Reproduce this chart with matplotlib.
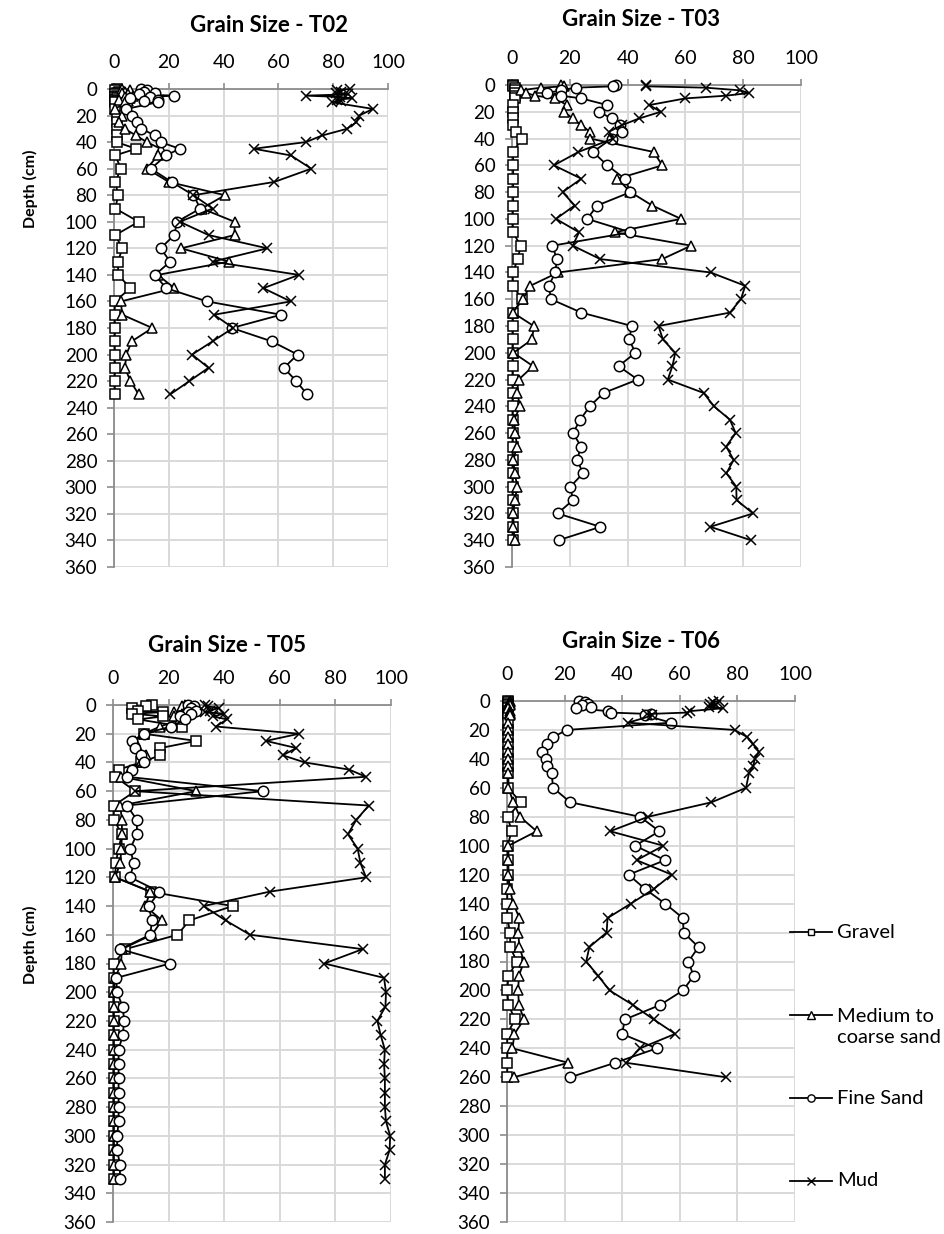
import matplotlib
matplotlib.use("Agg")
import matplotlib.pyplot as plt
from matplotlib.lines import Line2D

plt.rcParams["font.family"] = ["Lato", "DejaVu Sans"]

# ---------------------------------------------------------------------------
# Grain size fractions (%) against depth (cm) for each core
# ---------------------------------------------------------------------------

t02_depth  = [0, 1, 2, 3, 4, 5, 6, 7, 8, 9, 10, 15, 20, 25, 30, 35, 40, 45, 50,
              60, 70, 80, 90, 100, 110, 120, 130, 140, 150, 160, 170, 180, 190,
              200, 210, 220, 230]
t02_gravel = [1, 0.5, 2, 1, 0.5, 1, 0.5, 1, 0.5, 1, 0.5, 0.5, 1, 1, 1, 1, 1, 8, 0.5,
              2.5, 0.5, 1.5, 0.5, 9, 0.5, 3, 1.5, 1.5, 6, 0.3, 0.3, 0.3, 0.3,
              0.3, 0.3, 0.3, 0.3]
t02_medium = [3, 6, 4, 3, 5, 7, 4, 6, 2, 5, 4, 0.5, 3, 2, 4, 8, 12, 17, 16,
              12, 20, 40.5, 32, 44, 44, 24.5, 42, 16, 22, 2.5, 3, 14, 6.5,
              4.5, 4, 6, 9]
t02_fine   = [10, 12, 11, 15, 9, 22, 13, 6, 16, 11, 16, 4.5, 6.5, 8.5, 10, 15, 17, 24, 19,
              13.5, 21, 29, 31.5, 23, 22, 17, 20.5, 15, 19, 34, 61, 43, 57.5,
              67, 62, 66.5, 70.5]
t02_mud    = [86, 81.5, 83, 81, 85.5, 70, 82.5, 87, 81.5, 83, 79.5, 94.5, 89.5, 88.5, 85, 76, 70, 51, 64.5,
              72, 58.5, 29, 36, 24, 34.5, 56, 36, 67.5, 54.5, 64.5, 36.5, 43.5, 36,
              28.5, 34.5, 27.5, 20.5]

t03_depth  = [0, 1, 2, 4, 6, 8, 10, 15, 20, 25, 30, 35, 40, 50, 60, 70, 80, 90,
              100, 110, 120, 130, 140, 150, 160, 170, 180, 190, 200, 210, 220,
              230, 240, 250, 260, 270, 280, 290, 300, 310, 320, 330, 340]
t03_gravel = [0.5, 0.5, 1, 1, 1, 1, 1, 0.5, 0.5, 0.5, 0.5, 1.5, 3.5, 0.3, 0.5, 0.3, 0.5, 0.3,
              0.3, 0.3, 3, 2, 0.3, 0.3, 3.5, 0.3, 0.3, 0.3, 0.3, 0.3, 0.3,
              0.3, 0.3, 0.3, 0.3, 0.3, 0.3, 0.3, 0.3, 0.3, 0.3, 0.3, 0.3]
t03_medium = [17, 18, 10, 3, 5, 8, 15, 19, 18, 21, 24, 27, 27, 49, 52, 36.5, 41, 48.5,
              58.5, 35.5, 62, 52, 16, 6.3, 3.8, 0.3, 7.5, 7, 0.5, 7.3, 2.3,
              1.7, 2.9, 0.7, 1.2, 1.7, 0.5, 0.9, 1.9, 0.9, 0.5, 0.5, 0.9]
t03_fine   = [36, 35, 22, 17, 12, 17, 24, 33, 30, 34.5, 37.5, 38, 34.5, 28, 33, 39, 41, 29.5,
              26, 41, 14, 15.5, 15, 12.7, 13.5, 24, 41.5, 40.5, 42.7, 36.9, 43.5,
              31.7, 26.9, 23.6, 21.1, 23.9, 22.5, 24.6, 20.2, 21.1, 15.8, 30.6, 16.1]
t03_mud    = [46.5, 46.5, 67, 79, 82, 74, 60, 47.5, 51.5, 44, 38, 33.5, 35, 23, 14.5, 24, 17.5, 21.7,
              15.2, 23.2, 21, 30.5, 68.7, 80.7, 79.2, 75.4, 50.7, 52.2, 56.5, 55.5, 53.9,
              66.3, 69.9, 75.4, 77.4, 74.1, 76.7, 74.2, 77.6, 77.7, 83.4, 68.6, 82.7]

t05_depth  = [0, 1, 2, 4, 5, 6, 8, 10, 15, 20, 25, 30, 35, 40, 45, 50, 60, 70,
              80, 90, 100, 110, 120, 130, 140, 150, 160, 170, 180, 190, 200,
              210, 220, 230, 240, 250, 260, 270, 280, 290, 300, 310, 320, 330]
t05_gravel = [14, 12, 7, 9, 18, 7, 18, 9, 25, 11, 30, 17, 17, 10, 2, 0.8, 8, 0.3,
              0.3, 3.2, 2, 1, 0.8, 13.5, 43, 27.5, 23.2, 4.4, 0.3, 0.3, 0.2,
              0.2, 0.2, 0.2, 0.2, 0.2, 0.2, 0.2, 0.2, 0.2, 0.2, 0.2, 0.2, 0.2]
t05_medium = [26, 25, 27, 26, 22, 25, 22, 24, 17, 11, 8, 9, 12, 10, 6, 3, 30, 2.6,
              3.2, 3.2, 3, 2.6, 0.8, 13.4, 11.6, 17.6, 14, 3.2, 2.9, 0.8, 0.3,
              0.3, 0.3, 0.3, 0.3, 0.3, 0.3, 0.3, 0.3, 0.3, 0.3, 0.3, 0.3, 0.3]
t05_fine   = [27, 29, 28, 30, 27, 28, 24, 26, 21, 11, 7, 8, 10, 11, 7, 5, 54, 5,
              8.6, 8.6, 6.2, 7.4, 6.2, 16.7, 12.8, 14, 13.4, 2.6, 20.6, 1.2, 1.4,
              3.5, 4, 3.5, 2, 2, 2, 2, 2, 2, 1.5, 1.5, 2.5, 2.5]
t05_mud    = [33, 34, 38, 35, 33, 40, 36, 41, 37, 67, 55, 66, 61, 69, 85, 91, 8, 92,
              87.5, 84.5, 88, 89, 91, 56.3, 32.6, 40.5, 49.3, 89.8, 76, 97.5, 98.2,
              98, 95.1, 96.3, 97.8, 97.5, 97.8, 97.8, 97.8, 98.2, 99.7, 99.5, 97.8, 97.8]

t06_depth  = [0, 1, 2, 3, 4, 5, 7, 8, 9, 10, 15, 20, 25, 30, 35, 40, 45, 50, 60,
              70, 80, 90, 100, 110, 120, 130, 140, 150, 160, 170, 180, 190,
              200, 210, 220, 230, 240, 250, 260]
t06_gravel = [0.5, 0.5, 0.5, 0.5, 0.5, 0.5, 0.5, 0.5, 0.5, 0.5, 0.5, 0.3, 0.3, 0.3, 0.3, 0.3, 0.3, 0.3, 0.3,
              4.8, 0.2, 1.6, 0.2, 0.2, 0.5, 0.1, 0.1, 0.1, 1.1, 1.1, 3.4, 0.5,
              0.1, 0.5, 2.8, 0.1, 0.1, 0.1, 0.1]
t06_medium = [1, 1, 1, 1, 0.5, 0.5, 1, 1, 1, 1, 0.5, 0.5, 0.5, 0.5, 0.5, 0.5, 0.5, 0.5, 0.5,
              2.2, 4.5, 10.3, 0.5, 0.5, 0.5, 1, 2.2, 4.3, 3.9, 4.3, 5.9, 4.1,
              3.9, 4.1, 5.9, 2.6, 1.9, 21.3, 2.3]
t06_fine   = [25, 27, 28, 26, 29, 24, 35, 36, 50, 48, 57, 20.7, 16, 13.8, 12, 13.5, 14, 15.5, 16,
              22, 46.2, 52.9, 44.5, 54.9, 42.2, 48, 54.9, 61.1, 61.3, 66.5, 63, 64.8,
              61.1, 53.2, 41, 39.9, 52, 37.5, 21.9]
t06_mud    = [73.5, 71.5, 70.5, 72.5, 70, 75, 63.5, 62.5, 48.5, 50.5, 42, 79, 83.5, 85.5, 87.5, 86, 85.5, 84, 83,
              71, 49, 35.8, 54.3, 45, 57.2, 50.9, 43, 34.9, 34.6, 28.6, 27.5, 31.7,
              35.6, 43.7, 50.9, 58.4, 46.2, 41.4, 76.1]

series_labels = ["Gravel", "Medium to\ncoarse sand", "Fine Sand", "Mud"]
x_ticks = [0, 20, 40, 60, 80, 100]
depth_ticks = list(range(0, 361, 20))

# ---------------------------------------------------------------------------
# Layout (pixel boxes on a 945 x 1234 canvas)
# ---------------------------------------------------------------------------

W, H = 945, 1234
GRID_COLOR  = "#d9d9d9"
SPINE_COLOR = "#8c8c8c"

MARKERS = [
    dict(marker="s", ms=6.5, mfc="white"),
    dict(marker="^", ms=7.5, mfc="white"),
    dict(marker="o", ms=7.5, mfc="white"),
    dict(marker="x", ms=7.5),
]


def px_rect(left, top, right, bottom):
    return [left / W, 1 - bottom / H, (right - left) / W, (bottom - top) / H]


def draw_core(fig, box, depth, fractions, title, title_xy, ylabel_xy=None):
    ax = fig.add_axes(px_rect(*box))
    for values, style in zip(fractions, MARKERS):
        ax.plot(values, depth, color="black", lw=1.3, mec="black", mew=1.1,
                clip_on=False, zorder=3, **style)

    ax.set_xlim(0, 100)
    ax.set_ylim(360, 0)
    ax.set_xticks(x_ticks)
    ax.set_yticks(depth_ticks)
    ax.xaxis.tick_top()
    ax.grid(True, color=GRID_COLOR, lw=1.4, zorder=0)
    ax.set_axisbelow(True)

    for side in ("right", "bottom"):
        ax.spines[side].set_visible(False)
    for side in ("left", "top"):
        ax.spines[side].set_color(SPINE_COLOR)
        ax.spines[side].set_linewidth(1.3)

    ax.tick_params(axis="x", direction="out", length=4, width=1.2,
                   color=SPINE_COLOR, pad=9, labelsize=14)
    ax.tick_params(axis="y", direction="out", length=5, width=1.2,
                   color=SPINE_COLOR, pad=7, labelsize=13.5)

    fig.text(title_xy[0] / W, 1 - title_xy[1] / H, title, ha="center",
             va="center", fontsize=16, fontweight="bold")

    if ylabel_xy is not None:
        fig.text(ylabel_xy[0] / W, 1 - ylabel_xy[1] / H, "Depth (cm)",
                 rotation=90, ha="center", va="center", fontsize=11.5,
                 fontweight="bold")
    return ax


fig = plt.figure(figsize=(W / 100, H / 100), dpi=100)

ax02 = draw_core(fig, (114, 89, 388, 567), t02_depth,
                 [t02_gravel, t02_medium, t02_fine, t02_mud],
                 "Grain Size - T02", (269, 25), (30, 189))
ax03 = draw_core(fig, (512, 85, 801, 567), t03_depth,
                 [t03_gravel, t03_medium, t03_fine, t03_mud],
                 "Grain Size - T03", (641, 19))
ax05 = draw_core(fig, (113, 705, 391, 1222), t05_depth,
                 [t05_gravel, t05_medium, t05_fine, t05_mud],
                 "Grain Size - T05", (227, 645), (30, 945))
ax06 = draw_core(fig, (507, 701, 795, 1222), t06_depth,
                 [t06_gravel, t06_medium, t06_fine, t06_mud],
                 "Grain Size - T06", (641, 641))

# Legend: one short line with its marker per fraction, label to the right
legend_rows = [932, 1015, 1098, 1181]
for label, style, y in zip(series_labels, MARKERS, legend_rows):
    yf = 1 - y / H
    small = dict(style, ms=style["ms"] * 0.7)
    fig.add_artist(Line2D([790 / W, 832 / W], [yf, yf], color="black", lw=1.3))
    fig.add_artist(Line2D([811 / W], [yf], color="black", mec="black", mew=1.0,
                          **small))
    text_y = yf if "\n" not in label else yf - 12 / H
    fig.text(837 / W, text_y, label, ha="left", va="center", fontsize=14.5,
             linespacing=1.35)

fig.savefig("out.png", dpi=100)
